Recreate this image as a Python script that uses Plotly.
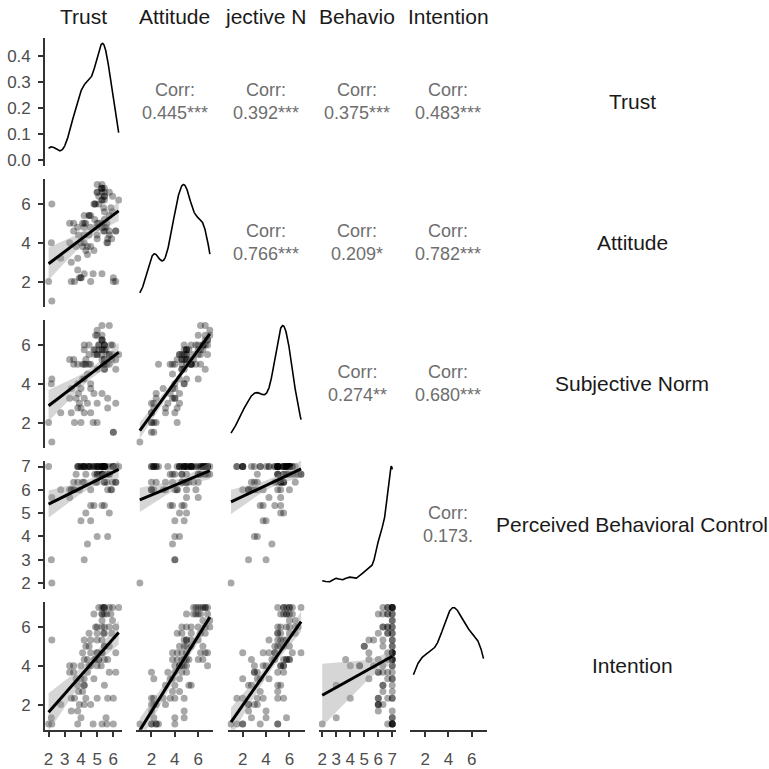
import numpy as np
import plotly.graph_objects as go

# ---- survey scale scores, one entry per respondent ----
trust = [5.95, 5.40, 5.10, 6.33, 5.45, 5.30, 5.75, 5.45, 5.30,
         5.60, 5.45, 5.85, 4.80, 5.30, 5.45, 5.30,
         5.95, 5.30,
         6.15, 5.30, 5.75, 4.90, 5.45, 5.00,
         5.90, 5.40, 4.50, 5.45, 5.00,
         2.20, 5.30, 4.20, 5.00, 4.60,
         5.75, 5.45, 4.30, 4.50,
         4.60, 5.00, 6.15, 4.10, 5.30, 5.00,
         4.40, 5.65, 5.45, 5.10, 4.85, 4.85, 5.10,
         4.00, 5.00, 3.55, 4.60, 3.30, 5.25,
         6.15, 4.40, 3.30, 5.75, 3.55,
         4.80, 3.70, 4.20,
         3.80, 4.20, 5.45, 4.20,
         4.10, 3.85,
         3.60, 6.00, 3.40, 4.30, 5.65, 5.00,
         4.60, 4.20, 3.90, 2.75, 4.20,
         3.40, 4.50, 3.80,
         2.17, 4.00, 5.55,
         2.20, 2.00, 4.00, 4.75, 3.80, 5.30, 5.60, 6.00]

attitude = [5.6, 5.8, 6.0, 6.2, 6.4, 6.6, 6.6, 6.8, 6.8,
            5.0, 5.6, 5.8, 6.0, 6.2, 6.4, 6.8,
            6.4, 7.0,
            4.6, 5.0, 5.4, 6.0, 6.6, 7.0,
            4.2, 4.6, 5.4, 6.2, 6.6,
            6.0, 4.8, 5.0, 5.0, 5.4,
            4.4, 4.8, 5.0, 5.4,
            3.8, 4.2, 4.6, 5.0, 6.2, 6.6,
            3.8, 4.2, 4.6, 5.0, 5.2, 6.0, 6.4,
            4.0, 4.4, 4.6, 4.8, 5.0, 6.8,
            2.0, 3.4, 4.0, 4.6, 5.0,
            3.6, 3.8, 4.4,
            3.2, 4.0, 5.2, 5.4,
            3.8, 4.4,
            2.0, 2.2, 3.0, 3.6, 4.0, 4.8,
            2.0, 2.4, 2.2, 3.2, 4.8,
            2.0, 4.4, 4.8,
            4.0, 2.2, 4.8,
            1.0, 2.0, 2.2, 2.4, 2.6, 2.4, 4.0, 2.0]

subjective_norm = [5.50, 5.00, 6.00, 5.50, 5.75, 6.25, 7.00, 6.00, 6.25,
                   5.50, 5.25, 6.00, 5.75, 5.75, 6.00, 6.25,
                   6.00, 6.50,
                   5.25, 5.75, 5.00, 6.50, 6.00, 6.75,
                   5.25, 5.00, 6.00, 5.00, 6.50,
                   4.25, 5.25, 5.75, 5.50, 5.00,
                   5.50, 4.75, 5.25, 5.00,
                   3.75, 2.00, 4.75, 4.25, 7.00, 4.75,
                   4.50, 2.75, 4.75, 5.75, 5.75, 5.50, 6.00,
                   3.75, 3.00, 5.25, 4.00, 5.25, 5.50,
                   3.00, 3.00, 3.25, 5.50, 5.00,
                   3.50, 3.25, 4.25,
                   2.75, 2.50, 5.25, 5.00,
                   5.00, 3.50,
                   2.00, 1.50, 3.75, 5.00, 3.25, 5.50,
                   2.50, 3.25, 3.00, 2.50, 6.00,
                   2.50, 5.50, 4.00,
                   4.00, 2.75, 5.75,
                   1.00, 2.00, 2.00, 2.00, 5.00, 3.50, 5.00, 1.50]

behavioral_control = [6.33, 7, 6.67, 7, 7, 7, 6.67, 7, 7,
                      6.33, 7, 6.00, 7, 6.67, 7, 6.67,
                      7, 7,
                      6.33, 6.67, 7, 6.33, 7, 6.67,
                      6.00, 6.67, 7, 7, 6.67,
                      5.67, 5.33, 7, 6.33, 7,
                      5.00, 6.33, 5.00, 7,
                      5.33, 7, 7, 7, 6.67, 7,
                      3.67, 6.00, 5.33, 7, 7, 6.67, 7,
                      4.67, 4.00, 6.33, 4.67, 5.67, 7,
                      6.33, 7, 6.00, 6.67, 6.00,
                      5.33, 6.67, 7,
                      6.33, 3.00, 6.33, 7,
                      6.33, 7,
                      6.00, 7, 6.00, 6.67, 4.00, 7,
                      6.00, 6.33, 6.00, 6.00, 7,
                      6.00, 7, 7,
                      3.00, 7, 7,
                      2.00, 7, 7, 7, 7, 7, 6.67, 7]

intention = [7, 7, 7, 7, 7, 7, 7, 7, 4.67,
             6.67, 6.67, 6.67, 6.67, 6.67, 5, 6.67,
             6.33, 6.33,
             6, 6, 6, 6, 6, 6,
             5.67, 5.67, 5.67, 5.67, 5.67,
             5.33, 5.33, 5.33, 5.33, 5.33,
             5, 5, 5, 5,
             4.67, 4.67, 4.67, 4.67, 4.67, 4.67,
             4.33, 4.33, 4.33, 4.33, 4.33, 4.33, 4.33,
             4, 4, 4, 4, 4, 4,
             3.67, 3.67, 3.67, 3.67, 3.67,
             3.33, 3.33, 3.33,
             3, 3, 3, 3,
             2.67, 2.67,
             2.33, 2.33, 2.33, 2.33, 2.33, 2.33,
             2, 2, 2, 2, 4.33,
             1.67, 4, 1.67,
             1.33, 1.33, 1.33,
             1, 1, 3.33, 1, 1, 1, 1, 1]

labels = ["Trust", "Attitude", "Subjective Norm",
          "Perceived Behavioral Control", "Intention"]
# column strips are narrow, so long names show only their middle part
header_text = ["Trust", "Attitude", "jective N", "Behavio", "Intention"]
columns = [trust, attitude, subjective_norm, behavioral_control, intention]
tick_values = [[2, 3, 4, 5, 6], [2, 4, 6], [2, 4, 6],
               [2, 3, 4, 5, 6, 7], [2, 4, 6]]

# Pearson correlations shown in the upper triangle
corr_pairs = [(0, 1), (0, 2), (0, 3), (0, 4), (1, 2),
              (1, 3), (1, 4), (2, 3), (2, 4), (3, 4)]
corr_r = [0.445, 0.392, 0.375, 0.483, 0.766,
          0.209, 0.782, 0.274, 0.680, 0.173]
corr_sig = ["***", "***", "***", "***", "***",
            "*", "***", "**", "***", "."]

W = H = 769
FONT = "Liberation Sans, Arial, sans-serif"
AXIS_COL = "#333333"
TICK_COL = "#4d4d4d"

# panel geometry (pixels)
col_x0 = [44.2 + j * 91.45 for j in range(5)]
panel_w = 77.3
row_y0 = [35 + i * 142.5 for i in range(5)]
panel_h = 129.5


def px_x(v):
    return v / W


def px_y(v):
    return 1 - v / H


def kde(values):
    v = np.asarray(values, float)
    n = len(v)
    q75, q25 = np.percentile(v, [75, 25])
    lo = min(v.std(ddof=1), (q75 - q25) / 1.34)
    bw = 0.9 * lo * n ** -0.2
    grid = np.linspace(v.min(), v.max(), 512)
    dens = np.exp(-0.5 * ((grid[:, None] - v[None, :]) / bw) ** 2).sum(1)
    dens /= n * bw * np.sqrt(2 * np.pi)
    return grid, dens


def linear_fit(x, y):
    x = np.asarray(x, float)
    y = np.asarray(y, float)
    n = len(x)
    b1, b0 = np.polyfit(x, y, 1)
    grid = np.linspace(x.min(), x.max(), 80)
    fit = b0 + b1 * grid
    resid = y - (b0 + b1 * x)
    s = np.sqrt((resid ** 2).sum() / (n - 2))
    sxx = ((x - x.mean()) ** 2).sum()
    se = s * np.sqrt(1 / n + (grid - x.mean()) ** 2 / sxx)
    t = 1.9855
    return grid, fit, fit - t * se, fit + t * se


def data_range(v):
    lo, hi = min(v), max(v)
    pad = 0.05 * (hi - lo)
    return [lo - pad, hi + pad]


fig = go.Figure()
layout = dict(width=W, height=H, autosize=False,
              margin=dict(l=0, r=0, t=0, b=0),
              paper_bgcolor="white", plot_bgcolor="white",
              showlegend=False, font=dict(family=FONT, color=TICK_COL))
annotations = []

for i in range(5):
    for j in range(5):
        k = i * 5 + j + 1
        xa = "x" if k == 1 else f"x{k}"
        ya = "y" if k == 1 else f"y{k}"
        xkey = "xaxis" if k == 1 else f"xaxis{k}"
        ykey = "yaxis" if k == 1 else f"yaxis{k}"
        x0 = col_x0[j]
        y0 = row_y0[i]
        xdom = [px_x(x0), px_x(x0 + panel_w)]
        ydom = [px_y(y0 + panel_h), px_y(y0)]

        xax = dict(domain=xdom, anchor=ya, range=data_range(columns[j]),
                   showgrid=False, zeroline=False, showline=False,
                   showticklabels=False, ticks="")
        yax = dict(domain=ydom, anchor=xa, showgrid=False, zeroline=False,
                   showline=False, showticklabels=False, ticks="")

        if i == j:
            g, d = kde(columns[j])
            yax["range"] = [-0.05 * d.max(), 1.05 * d.max()]
            fig.add_trace(go.Scatter(x=g, y=d, mode="lines",
                                     line=dict(color="black", width=1.6),
                                     xaxis=xa, yaxis=ya, hoverinfo="skip"))
        elif i > j:
            yax["range"] = data_range(columns[i])
            fig.add_trace(go.Scatter(
                x=columns[j], y=columns[i], mode="markers",
                marker=dict(size=7, color="rgba(0,0,0,0.34)", line=dict(width=0)),
                xaxis=xa, yaxis=ya, hoverinfo="skip"))
            g, f, lo, hi = linear_fit(columns[j], columns[i])
            fig.add_trace(go.Scatter(
                x=np.concatenate([g, g[::-1]]), y=np.concatenate([hi, lo[::-1]]),
                mode="lines", fill="toself", fillcolor="rgba(153,153,153,0.4)",
                line=dict(width=0), xaxis=xa, yaxis=ya, hoverinfo="skip"))
            fig.add_trace(go.Scatter(x=g, y=f, mode="lines",
                                     line=dict(color="black", width=3),
                                     xaxis=xa, yaxis=ya, hoverinfo="skip"))
        else:
            yax["range"] = data_range(columns[i])
            idx = corr_pairs.index((i, j))
            annotations.append(dict(
                xref="paper", yref="paper",
                x=px_x(x0 + panel_w / 2), y=px_y(y0 + panel_h / 2),
                text=f"Corr:<br>{corr_r[idx]:.3f}{corr_sig[idx]}",
                showarrow=False, xanchor="center", yanchor="middle",
                font=dict(family=FONT, size=18, color="#6e6e6e")))

        tick_common = dict(ticks="outside", ticklen=5, tickwidth=1.8,
                           tickcolor=AXIS_COL, showline=True, linecolor=AXIS_COL,
                           linewidth=1.8, showticklabels=True,
                           tickfont=dict(family=FONT, size=17, color=TICK_COL))
        if i == 4:
            xax.update(tick_common)
            xax.update(tickmode="array", tickvals=tick_values[j],
                       ticklabelstandoff=8,
                       ticktext=[str(t) for t in tick_values[j]])
        if j == 0:
            yax.update(tick_common)
            yax.update(ticklabelstandoff=4)
            if i == 0:
                dmax = kde(columns[0])[1].max()
                tv = [t / 10 for t in range(0, 10) if t / 10 <= 1.05 * dmax]
                yax.update(tickmode="array", tickvals=tv,
                           ticktext=[f"{t:.1f}" for t in tv])
            else:
                yax.update(tickmode="array", tickvals=tick_values[i],
                           ticktext=[str(t) for t in tick_values[i]])
        layout[xkey] = xax
        layout[ykey] = yax

# column headers
for j in range(5):
    annotations.append(dict(
        xref="paper", yref="paper",
        x=px_x(col_x0[j] + panel_w / 2), y=px_y(14),
        text=header_text[j], showarrow=False, xanchor="center", yanchor="middle",
        font=dict(family=FONT, size=21, color="#1a1a1a")))

# row labels on the right
for i in range(5):
    annotations.append(dict(
        xref="paper", yref="paper",
        x=px_x(633), y=px_y(row_y0[i] + panel_h / 2),
        text=labels[i], showarrow=False, xanchor="center", yanchor="middle",
        font=dict(family=FONT, size=21, color="#1a1a1a")))

layout["annotations"] = annotations
fig.update_layout(**layout)
fig.write_html("out.html")
